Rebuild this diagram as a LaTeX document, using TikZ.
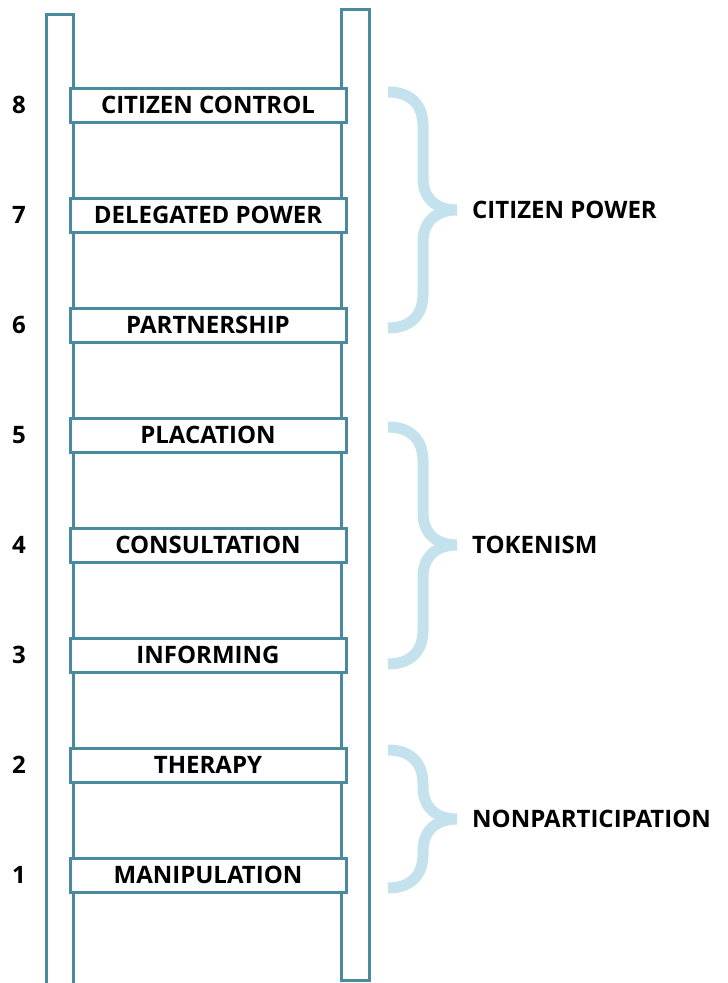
\documentclass[tikz,border=0pt]{standalone}
\usepackage{fontspec}
\setmainfont{Open Sans}
\usepackage{tikz}
\usetikzlibrary{positioning}
\definecolor{railblue}{RGB}{73,138,158}
\definecolor{braceblue}{RGB}{196,226,237}

\begin{document}
\begin{tikzpicture}[x=1pt,y=-1pt]
\tikzstyle{rail}=[draw=railblue,line width=3pt]
\tikzstyle{rung}=[rectangle,draw=railblue,line width=3pt,fill=white,minimum width=276pt,minimum height=34pt,inner sep=0pt,font=\fontsize{24}{28}\selectfont\bfseries]
\tikzstyle{stepnum}=[inner sep=0pt,font=\fontsize{24}{28}\selectfont\bfseries]
\tikzstyle{group}=[anchor=west,inner sep=0pt,font=\fontsize{24}{28}\selectfont\bfseries]
\tikzstyle{curly}=[draw=braceblue,line width=11pt]
\useasboundingbox (0,0) rectangle (728,983);
% rails
\draw[rail] (46,1000) -- (46,14) -- (73,14) -- (73,1000);
\draw[rail] (341,9) rectangle (369,980);
% rungs
\node [rung] (r8) at (208,105) {CITIZEN CONTROL};
\node [rung] (r7) at (208,215) {DELEGATED POWER};
\node [rung] (r6) at (208,325) {PARTNERSHIP};
\node [rung] (r5) at (208,435) {PLACATION};
\node [rung] (r4) at (208,545) {CONSULTATION};
\node [rung] (r3) at (208,655) {INFORMING};
\node [rung] (r2) at (208,765) {THERAPY};
\node [rung] (r1) at (208,875) {MANIPULATION};
% numbers
\node [stepnum] (n8) at (19,105) {8};
\node [stepnum] (n7) at (19,215) {7};
\node [stepnum] (n6) at (19,325) {6};
\node [stepnum] (n5) at (19,435) {5};
\node [stepnum] (n4) at (19,545) {4};
\node [stepnum] (n3) at (19,655) {3};
\node [stepnum] (n2) at (19,765) {2};
\node [stepnum] (n1) at (19,875) {1};
% braces
\coordinate (tip1) at (457,210);
\coordinate (tip2) at (457,545);
\coordinate (tip3) at (457,819);
\draw[curly] (388,92) .. controls (410,92) and (423,104) .. (423,126) -- (423,178) .. controls (423,200) and (438,210) .. (tip1)
  (tip1) .. controls (438,210) and (423,220) .. (423,242) -- (423,294) .. controls (423,316) and (410,328) .. (388,328);
\draw[curly] (388,427) .. controls (410,427) and (423,439) .. (423,461) -- (423,513) .. controls (423,535) and (438,545) .. (tip2)
  (tip2) .. controls (438,545) and (423,555) .. (423,577) -- (423,630) .. controls (423,652) and (410,664) .. (388,664);
\draw[curly] (388,750) .. controls (410,750) and (423,762) .. (423,784) -- (423,787) .. controls (423,809) and (438,819) .. (tip3)
  (tip3) .. controls (438,819) and (423,829) .. (423,851) -- (423,854) .. controls (423,876) and (410,888) .. (388,888);
% group labels
\node [group, right=15pt of tip1] (g1) {CITIZEN POWER};
\node [group, right=15pt of tip2] (g2) {TOKENISM};
\node [group, right=15pt of tip3] (g3) {NONPARTICIPATION};
\end{tikzpicture}
\end{document}
